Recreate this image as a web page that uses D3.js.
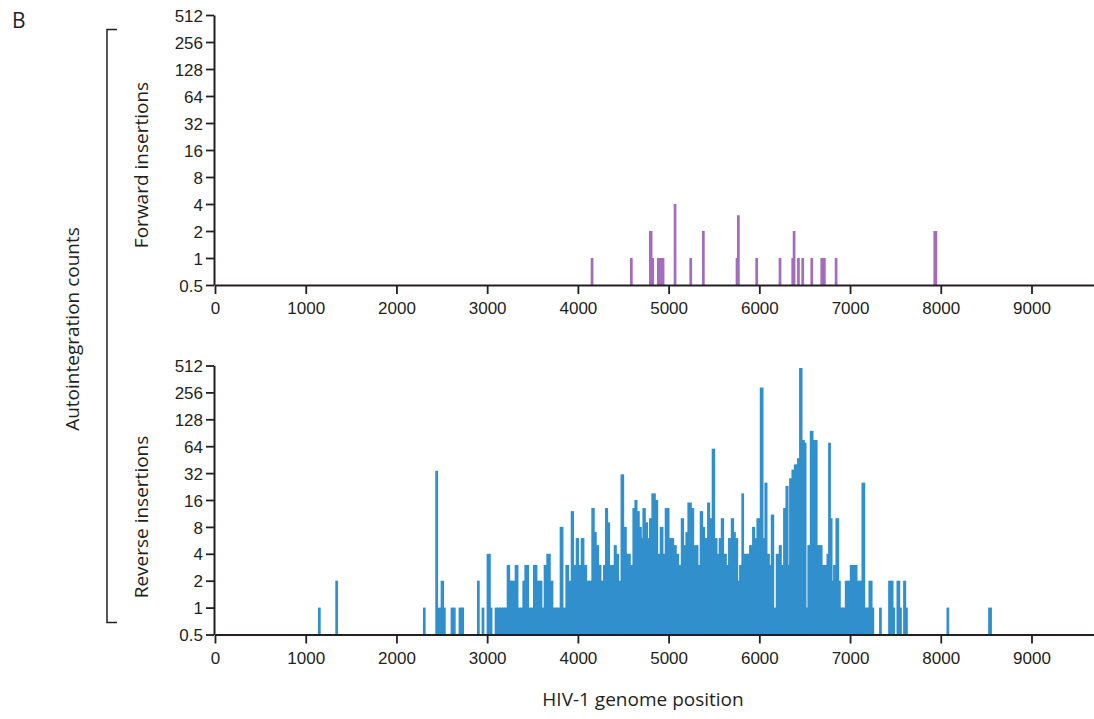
<!DOCTYPE html>
<html>
<head>
<meta charset="utf-8">
<script src="https://cdn.jsdelivr.net/npm/d3@7"></script>
<style>
  body { margin: 0; background: #fff; }
  svg { display: block; font-family: "Open Sans", sans-serif; }
  .axis text { font-size: 17px; fill: #231f20; }
  .axis path, .axis line { stroke: #231f20; }
  .title { font-size: 19px; fill: #231f20; }
</style>
</head>
<body>
<div id="container"></div>
<script>
// ticks
const yTicks = [0.5, 1, 2, 4, 8, 16, 32, 64, 128, 256, 512]
const xTicks = [0, 1000, 2000, 3000, 4000, 5000, 6000, 7000, 8000, 9000]

// forward insertions (position, count)
const forwardPositions = [4141, 4574, 4784, 4810, 4872, 4898, 4924, 5056, 5229, 5368,
  5739, 5754, 5956, 6213, 6353, 6368, 6416, 6463, 6563, 6673, 6702, 6831, 7919]
const forwardCounts = [1, 1, 2, 1, 1, 1, 1, 4, 1, 2,
  1, 3, 1, 1, 1, 2, 1, 1, 1, 1, 1, 1, 2]

// reverse insertions (position, count)
const reversePositions = [
  1135, 1326, 2292, 2428, 2447, 2487, 2513, 2597, 2623, 2685, 2715,
  2888, 2939, 2994, 3028, 3083, 3108, 3138, 3163, 3189, 3215, 3241, 3266, 3303, 3333,
  3358, 3388, 3410, 3450, 3480, 3505, 3542, 3571, 3597, 3623, 3652, 3689, 3718, 3748,
  3774, 3799, 3829, 3862, 3891, 3921, 3946, 3976, 4001, 4031, 4060, 4090, 4119, 4148,
  4174, 4196, 4222, 4248, 4277, 4299, 4321, 4343, 4369, 4395, 4417, 4442, 4470,
  4498, 4527, 4553, 4571, 4601, 4623, 4645, 4670, 4693, 4711, 4737, 4762, 4784, 4810,
  4847, 4873, 4902, 4931, 4957, 4976, 4998, 5020, 5049, 5078, 5104, 5134, 5159, 5185,
  5207, 5244, 5270, 5299, 5317, 5343, 5369, 5391, 5424, 5446, 5475, 5501, 5527, 5552,
  5575, 5600, 5630, 5655, 5685, 5710, 5729, 5755, 5777, 5802, 5820, 5839, 5869, 5887,
  5920, 5942, 5968, 6005, 6034, 6056, 6078, 6104,
  6126, 6152, 6181, 6214, 6236, 6262, 6288, 6310, 6328, 6354, 6380, 6402, 6416, 6438,
  6464, 6490, 6508, 6530, 6556, 6585, 6604, 6630, 6659, 6685, 6710, 6740, 6758, 6777,
  6795, 6813, 6839, 6868, 6886, 6905, 6924, 6942, 6971, 6997, 7034, 7070, 7100, 7126,
  7155, 7181, 7203, 7236, 7320, 7420, 7445, 7467, 7512, 7541, 7585, 7607, 8063, 8522]
const reverseCounts = [
  1, 2, 1, 34, 1, 2, 1, 1, 1, 1, 1,
  2, 1, 4, 1, 1, 1, 1, 1, 1, 3, 2, 2, 3, 1,
  1, 2, 3, 1, 1, 3, 2, 2, 1, 3, 4, 2, 1, 1,
  1, 8, 1, 3, 2, 12, 3, 6, 3, 6, 3, 2, 2, 13,
  7, 5, 3, 2, 3, 13, 9, 3, 3, 5, 4, 2, 31,
  8, 4, 4, 3, 13, 16, 12, 8, 6, 13, 9, 6, 10, 19,
  16, 4, 8, 4, 13, 13, 6, 6, 5, 4, 3, 10, 5, 7,
  15, 13, 5, 5, 3, 12, 8, 6, 15, 10, 60, 6, 4, 6,
  10, 4, 3, 6, 10, 7, 6, 2, 3, 19, 4, 4, 4, 5,
  8, 6, 10, 290, 6, 25, 4, 3,
  11, 1, 4, 5, 3, 13, 23, 3, 28, 35, 40, 40, 47, 480,
  75, 70, 1, 5, 95, 75, 75, 5, 5, 3, 3, 4, 70, 10,
  2, 3, 10, 2, 1, 1, 1, 2, 2, 3, 3, 2, 2, 25,
  1, 1, 2, 1, 1, 2, 2, 1, 2, 1, 2, 1, 1, 1]

let width = 1094, height = 719
let binWidth = 30   // nt covered by one bar
let maxJoin = 40    // bars closer than this touch their neighbour

let svg = d3.select('#container')
  .append('svg')
  .attr('width', width)
  .attr('height', height)
  .attr('xmlns', 'http://www.w3.org/2000/svg')

let x = d3.scaleLinear().domain([0, 9700]).range([215, 1095])

function panel(positions, counts, color, top, bottom, label, labelY) {
  let y = d3.scaleLog().base(2).domain([0.5, 512]).range([bottom, top])
  let data = positions.map((p, i) => {
    let gap = i < positions.length - 1 ? positions[i + 1] - p : binWidth
    // close neighbours overlap a little, so the dense part reads as one block
    let w = gap <= maxJoin ? Math.max(gap + 12, binWidth) : binWidth
    return { pos: p, count: counts[i], w: w }
  })

  svg.append('g')
    .selectAll('rect')
    .data(data)
    .join('rect')
    .attr('x', d => x(d.pos))
    .attr('width', d => x(d.pos + d.w) - x(d.pos))
    .attr('y', d => y(d.count))
    .attr('height', d => y(0.5) - y(d.count))
    .attr('fill', color)

  let xAxis = svg.append('g')
    .attr('class', 'axis')
    .attr('transform', `translate(0,${bottom})`)
    .call(d3.axisBottom(x).tickValues(xTicks).tickSize(9).tickPadding(8)
      .tickSizeOuter(0).tickFormat(d3.format('d')))
  xAxis.select('.domain').attr('stroke-width', 2)
  xAxis.selectAll('.tick line').attr('stroke-width', 1.8)

  let yAxis = svg.append('g')
    .attr('class', 'axis')
    .attr('transform', 'translate(214,0)')
    .call(d3.axisLeft(y).tickValues(yTicks).tickSize(8).tickPadding(3)
      .tickSizeOuter(0).tickFormat(d => d))
  yAxis.select('.domain').attr('stroke-width', 2)
  yAxis.selectAll('.tick line').attr('stroke-width', 1.8)
  yAxis.selectAll('.tick text').attr('dy', '0.36em')

  svg.append('text')
    .attr('class', 'title')
    .attr('transform', `translate(148,${labelY}) rotate(-90)`)
    .attr('text-anchor', 'middle')
    .text(label)
}

panel(forwardPositions, forwardCounts, '#a46cbc', 15, 285, 'Forward insertions', 165)
panel(reversePositions, reverseCounts, '#3190cc', 365.5, 634.5, 'Reverse insertions', 517)

// shared labels
svg.append('text')
  .attr('class', 'title')
  .attr('x', 643)
  .attr('y', 706)
  .attr('text-anchor', 'middle')
  .text('HIV-1 genome position')

svg.append('text')
  .attr('class', 'title')
  .attr('transform', 'translate(79,329) rotate(-90)')
  .attr('text-anchor', 'middle')
  .text('Autointegration counts')

svg.append('path')
  .attr('d', 'M 117 29.5 H 107 V 622.5 H 117')
  .attr('fill', 'none')
  .attr('stroke', '#231f20')
  .attr('stroke-width', 1.5)

svg.append('text')
  .attr('class', 'title')
  .attr('x', 12)
  .attr('y', 28)
  .style('font-size', '21px')
  .text('B')
</script>
</body>
</html>
